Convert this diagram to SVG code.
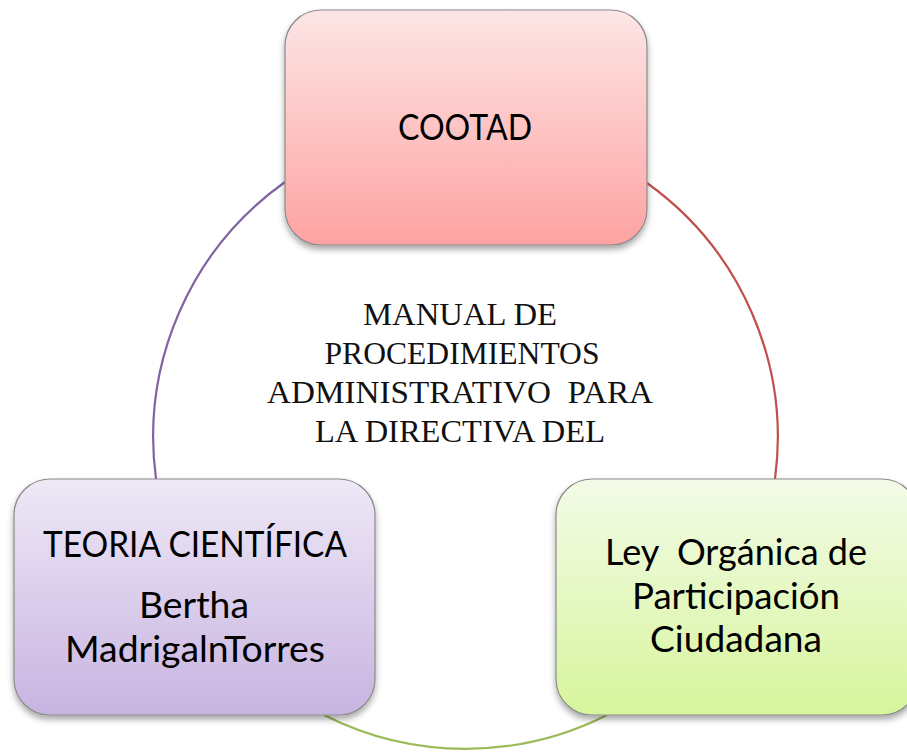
<svg xmlns="http://www.w3.org/2000/svg" width="907" height="753" viewBox="0 0 907 753">
<style>
.box{stroke:#8a8a8a;stroke-width:1.2;filter:url(#sh)}
.lbl{font-family:Lato,"Open Sans","Liberation Sans",sans-serif;font-size:36px;fill:#000;text-anchor:middle}
.ctr{font-family:"Liberation Serif","Times New Roman",serif;font-size:31px;fill:#111;text-anchor:middle}
.arc{fill:none;stroke-width:2.2}
</style>
<defs>
<linearGradient id="gr" x1="0" y1="0" x2="0" y2="1"><stop offset="0" stop-color="#fde6e6"/><stop offset="1" stop-color="#fea2a2"/></linearGradient>
<linearGradient id="gp" x1="0" y1="0" x2="0" y2="1"><stop offset="0" stop-color="#eee8f6"/><stop offset="1" stop-color="#c8b4e1"/></linearGradient>
<linearGradient id="gg" x1="0" y1="0" x2="0" y2="1"><stop offset="0" stop-color="#f3fbe8"/><stop offset="1" stop-color="#d7f59c"/></linearGradient>
<filter id="sh" x="-10%" y="-10%" width="120%" height="125%"><feDropShadow dx="0" dy="4" stdDeviation="3" flood-color="#000" flood-opacity="0.35"/></filter>
</defs>
<g id="connectors">
<path class="arc" stroke="#8064A2" d="M 285 182 A 313 313 0 0 0 156 479"/>
<path class="arc" stroke="#C0504D" d="M 647 183 A 313 313 0 0 1 775 479"/>
<path class="arc" stroke="#9BBB59" d="M 324 715 A 313 313 0 0 0 607 715"/>
</g>
<g id="center">
<text class="ctr" x="460" y="325" textLength="194" lengthAdjust="spacingAndGlyphs">MANUAL DE</text>
<text class="ctr" x="462" y="364" textLength="275" lengthAdjust="spacingAndGlyphs">PROCEDIMIENTOS</text>
<text class="ctr" x="460" y="403" xml:space="preserve" textLength="386" lengthAdjust="spacingAndGlyphs">ADMINISTRATIVO  PARA</text>
<text class="ctr" x="460" y="442" textLength="290" lengthAdjust="spacingAndGlyphs">LA DIRECTIVA DEL</text>
</g>
<g id="cootad">
<rect class="box" x="285" y="10" width="362" height="235" rx="36" fill="url(#gr)"/>
<text class="lbl" x="465" y="140" textLength="134" lengthAdjust="spacingAndGlyphs">COOTAD</text>
</g>
<g id="teoria">
<rect class="box" x="14" y="479" width="361" height="236" rx="36" fill="url(#gp)"/>
<text class="lbl" x="195" y="557" textLength="304" lengthAdjust="spacingAndGlyphs">TEORIA CIENTÍFICA</text>
<text class="lbl" x="194" y="618" textLength="110" lengthAdjust="spacingAndGlyphs">Bertha</text>
<text class="lbl" x="195" y="662" textLength="260" lengthAdjust="spacingAndGlyphs">MadrigalnTorres</text>
</g>
<g id="ley">
<rect class="box" x="556" y="479" width="362" height="236" rx="36" fill="url(#gg)"/>
<text class="lbl" x="736" y="565" xml:space="preserve" textLength="262" lengthAdjust="spacingAndGlyphs">Ley  Orgánica de</text>
<text class="lbl" x="736" y="609" textLength="208" lengthAdjust="spacingAndGlyphs">Participación</text>
<text class="lbl" x="736" y="652" textLength="172" lengthAdjust="spacingAndGlyphs">Ciudadana</text>
</g>
</svg>
